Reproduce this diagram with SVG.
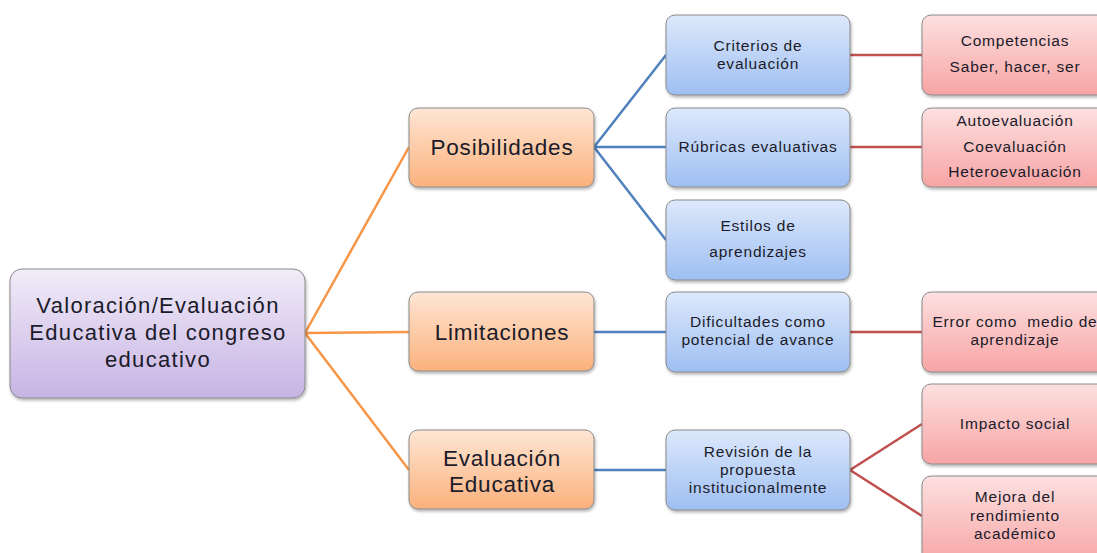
<svg xmlns="http://www.w3.org/2000/svg" width="1097" height="553" viewBox="0 0 1097 553">
<defs>
<linearGradient id="gP" x1="0" y1="0" x2="0" y2="1"><stop offset="0" stop-color="#f1ecf8"/><stop offset="1" stop-color="#c7b3e4"/></linearGradient>
<linearGradient id="gO" x1="0" y1="0" x2="0" y2="1"><stop offset="0" stop-color="#fee6d4"/><stop offset="1" stop-color="#fbb17c"/></linearGradient>
<linearGradient id="gB" x1="0" y1="0" x2="0" y2="1"><stop offset="0" stop-color="#dde8fb"/><stop offset="1" stop-color="#9ebff2"/></linearGradient>
<linearGradient id="gR" x1="0" y1="0" x2="0" y2="1"><stop offset="0" stop-color="#fde0e0"/><stop offset="1" stop-color="#f7a4a4"/></linearGradient>
<filter id="sh" x="-10%" y="-10%" width="120%" height="130%"><feDropShadow dx="1" dy="2" stdDeviation="1.5" flood-color="#000" flood-opacity="0.3"/></filter>
</defs>
<style>
.n{stroke:#8a8a8a;stroke-width:1;filter:url(#sh)}
.p{fill:url(#gP)}.o{fill:url(#gO)}.b{fill:url(#gB)}.r{fill:url(#gR)}
text{font-family:"Liberation Sans",Arial,sans-serif;fill:#1b1b2a;text-anchor:middle;white-space:pre}
.t0{font-size:22px;letter-spacing:1.3px}.t1{font-size:22.5px;letter-spacing:0.8px}.t2{font-size:15.5px;letter-spacing:0.8px}.t3{font-size:15.5px;letter-spacing:0.8px}
.co{stroke:#f79646;stroke-width:2.5;fill:none}
.cb{stroke:#4f81bd;stroke-width:2.5;fill:none}
.cr{stroke:#c0504d;stroke-width:2.5;fill:none}
</style>
<rect width="1097" height="553" fill="#fff"/>
<g id="connectors">
<path class="co" d="M305 333L409 147M305 333L409 332M305 333L409 470"/>
<path class="cb" d="M594 147L666 55M594 147L666 147M594 147L666 240M594 332L666 332M594 470L666 470"/>
<path class="cr" d="M850 55L922 55M850 147L922 147M850 332L922 332M850 470L922 424M850 470L922 516"/>
</g>
<g id="root"><rect class="n p" x="10" y="269" width="295" height="129" rx="12"/>
<text class="t0" x="158" y="313">Valoración/Evaluación</text><text class="t0" x="158" y="340">Educativa del congreso</text><text class="t0" x="158" y="367">educativo</text></g>
<g id="posibilidades"><rect class="n o" x="409" y="108" width="185" height="79" rx="9"/><text class="t1" x="502" y="155">Posibilidades</text></g>
<g id="limitaciones"><rect class="n o" x="409" y="292" width="185" height="79" rx="9"/><text class="t1" x="502" y="340">Limitaciones</text></g>
<g id="evaluacion"><rect class="n o" x="409" y="430" width="185" height="79" rx="9"/><text class="t1" x="502" y="466">Evaluación</text><text class="t1" x="502" y="492">Educativa</text></g>
<g id="criterios"><rect class="n b" x="666" y="15" width="184" height="80" rx="9"/><text class="t2" x="758" y="51">Criterios de</text><text class="t2" x="758" y="69">evaluación</text></g>
<g id="rubricas"><rect class="n b" x="666" y="108" width="184" height="79" rx="9"/><text class="t2" x="758" y="152">Rúbricas evaluativas</text></g>
<g id="estilos"><rect class="n b" x="666" y="200" width="184" height="80" rx="9"/><text class="t2" x="758" y="231">Estilos de</text><text class="t2" x="758" y="257">aprendizajes</text></g>
<g id="dificultades"><rect class="n b" x="666" y="292" width="184" height="80" rx="9"/><text class="t2" x="758" y="327">Dificultades como</text><text class="t2" x="758" y="345">potencial de avance</text></g>
<g id="revision"><rect class="n b" x="666" y="430" width="184" height="80" rx="9"/><text class="t2" x="758" y="457">Revisión de la</text><text class="t2" x="758" y="475">propuesta</text><text class="t2" x="758" y="493">institucionalmente</text></g>
<g id="competencias"><rect class="n r" x="922" y="15" width="190" height="80" rx="9"/><text class="t3" x="1015" y="46">Competencias</text><text class="t3" x="1015" y="72">Saber, hacer, ser</text></g>
<g id="autoevaluacion"><rect class="n r" x="922" y="108" width="190" height="79" rx="9"/><text class="t3" x="1015" y="126">Autoevaluación</text><text class="t3" x="1015" y="152">Coevaluación</text><text class="t3" x="1015" y="177">Heteroevaluación</text></g>
<g id="error"><rect class="n r" x="922" y="292" width="190" height="80" rx="9"/><text class="t3" x="1015" y="327">Error como  medio de</text><text class="t3" x="1015" y="345">aprendizaje</text></g>
<g id="impacto"><rect class="n r" x="922" y="384" width="190" height="80" rx="9"/><text class="t3" x="1015" y="429">Impacto social</text></g>
<g id="mejora"><rect class="n r" x="922" y="476" width="190" height="90" rx="9"/><text class="t3" x="1015" y="502">Mejora del</text><text class="t3" x="1015" y="521">rendimiento</text><text class="t3" x="1015" y="539">académico</text></g>
</svg>
